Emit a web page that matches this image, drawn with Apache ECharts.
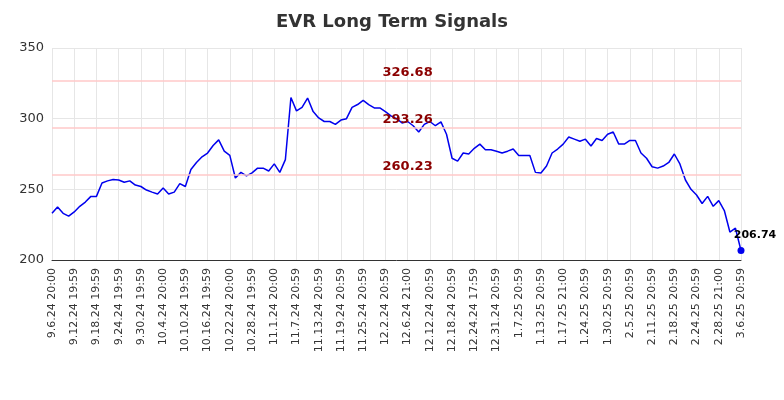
<!DOCTYPE html>
<html><head><meta charset="utf-8">
<script src="https://cdn.jsdelivr.net/npm/echarts@6/dist/echarts.min.js"></script>
<style>html,body{margin:0;padding:0;background:#fff}#c{width:784px;height:400px}</style>
</head><body><div id="c"></div>
<script>
const dates = ["9.6.24 20:00","9.9.24 19:59","9.10.24 19:59","9.11.24 19:59","9.12.24 19:59","9.13.24 19:59","9.16.24 19:59","9.17.24 19:59","9.18.24 19:59","9.19.24 19:59","9.20.24 19:59","9.23.24 19:59","9.24.24 19:59","9.25.24 19:59","9.26.24 19:59","9.27.24 19:59","9.30.24 19:59","10.1.24 19:59","10.2.24 19:59","10.3.24 19:59","10.4.24 20:00","10.7.24 19:59","10.8.24 19:59","10.9.24 19:59","10.10.24 19:59","10.11.24 19:59","10.14.24 19:59","10.15.24 19:59","10.16.24 19:59","10.17.24 19:59","10.18.24 19:59","10.21.24 19:59","10.22.24 20:00","10.23.24 19:59","10.24.24 19:59","10.25.24 19:59","10.28.24 19:59","10.29.24 19:59","10.30.24 19:59","10.31.24 19:59","11.1.24 20:00","11.4.24 20:59","11.5.24 20:59","11.6.24 20:59","11.7.24 20:59","11.8.24 20:59","11.11.24 20:59","11.12.24 20:59","11.13.24 20:59","11.14.24 20:59","11.15.24 20:59","11.18.24 20:59","11.19.24 20:59","11.20.24 20:59","11.21.24 20:59","11.22.24 20:59","11.25.24 20:59","11.26.24 20:59","11.27.24 20:59","11.29.24 20:59","12.2.24 20:59","12.3.24 20:59","12.4.24 20:59","12.5.24 20:59","12.6.24 21:00","12.9.24 20:59","12.10.24 20:59","12.11.24 20:59","12.12.24 20:59","12.13.24 20:59","12.16.24 20:59","12.17.24 20:59","12.18.24 20:59","12.19.24 20:59","12.20.24 20:59","12.23.24 20:59","12.24.24 17:59","12.26.24 20:59","12.27.24 20:59","12.30.24 20:59","12.31.24 20:59","1.2.25 20:59","1.3.25 20:59","1.6.25 20:59","1.7.25 20:59","1.8.25 20:59","1.9.25 20:59","1.10.25 20:59","1.13.25 20:59","1.14.25 20:59","1.15.25 20:59","1.16.25 20:59","1.17.25 21:00","1.21.25 20:59","1.22.25 20:59","1.23.25 20:59","1.24.25 20:59","1.27.25 20:59","1.28.25 20:59","1.29.25 20:59","1.30.25 20:59","1.31.25 20:59","2.3.25 20:59","2.4.25 20:59","2.5.25 20:59","2.6.25 20:59","2.7.25 20:59","2.10.25 20:59","2.11.25 20:59","2.12.25 20:59","2.13.25 20:59","2.14.25 20:59","2.18.25 20:59","2.19.25 20:59","2.20.25 20:59","2.21.25 20:59","2.24.25 20:59","2.25.25 20:59","2.26.25 20:59","2.27.25 20:59","2.28.25 21:00","3.3.25 20:59","3.4.25 20:59","3.5.25 20:59","3.6.25 20:59"];
const prices = [233,237.5,233,231,234,238,241,245,245,254.5,256,257,256.6,255,256,253,252,249.5,248,246.7,251,246.7,248,254,252,264,269,273,275.7,281,285,277,274,258,262,259.5,261.6,265,265,263,268,262,271,315,305.5,308,314.6,305,300.5,298,298,296,299,300,308,310,313,310,307.6,307.6,305,302,300,297,298,295,290.6,296,298,295,297.7,289,272,270,275.7,275,279,282,278,278,277,275.7,277,278.5,274,274,274,262,261.6,266.5,275.7,278.5,282,287,285.5,284,285.5,280.7,286,284.6,289,290.6,282,282,284.6,284.6,275.7,272,266,265,266.5,269,275,268,256.6,250,246,240,245,238,242,235,219.8,222.5,206.74];
const levels = [326.68, 293.26, 260.23];
const yTicks = [200, 250, 300, 350];

const chart = echarts.init(document.getElementById('c'));
const last = prices.length - 1;
chart.setOption({
  animation:false,
  title:{text:'EVR Long Term Signals',left:'center',top:8,textStyle:{fontSize:18,fontWeight:'bold',color:'#333',fontFamily:'DejaVu Sans'}},
  grid:{left:52,right:43,top:48,bottom:140},
  xAxis:{type:'category',data:dates,boundaryGap:false,
    axisLabel:{rotate:90,interval:3,fontSize:11,color:'#333',fontFamily:'DejaVu Sans'},
    axisTick:{show:false},axisLine:{lineStyle:{color:'#333'}},
    splitLine:{show:true,interval:3,lineStyle:{color:'#e6e6e6'}}},
  yAxis:{type:'value',min:yTicks[0],max:yTicks[yTicks.length-1],interval:50,
    axisLabel:{fontSize:13,color:'#333',fontFamily:'DejaVu Sans'},
    axisLine:{show:false},axisTick:{show:false},splitLine:{lineStyle:{color:'#e6e6e6'}}},
  series:[{type:'line',data:prices,symbol:'none',lineStyle:{color:'#0000ee',width:1.5},
    markLine:{silent:true,symbol:'none',lineStyle:{color:'#ffc8c8',type:'solid',width:1.5},
      label:{show:false},
      data:levels.map(v=>({yAxis:v}))},
    markPoint:{data:[{coord:[last,prices[last]],value:prices[last]}],symbol:'circle',symbolSize:7,
      itemStyle:{color:'#0000ee'},
      label:{show:true,position:'top',offset:[14,-1],formatter:p=>p.value.toFixed(2),color:'#000',fontSize:11,fontWeight:'bold',fontFamily:'DejaVu Sans'}}
  },
  {type:'line',data:[],markPoint:{symbol:'rect',symbolSize:0,
    label:{show:true,color:'#8b0000',fontSize:13,fontWeight:'bold',fontFamily:'DejaVu Sans',position:'top',distance:2,formatter:p=>p.value.toFixed(2)},
    data:levels.map(v=>({coord:[64,v],value:v}))}}]
});
</script></body></html>
